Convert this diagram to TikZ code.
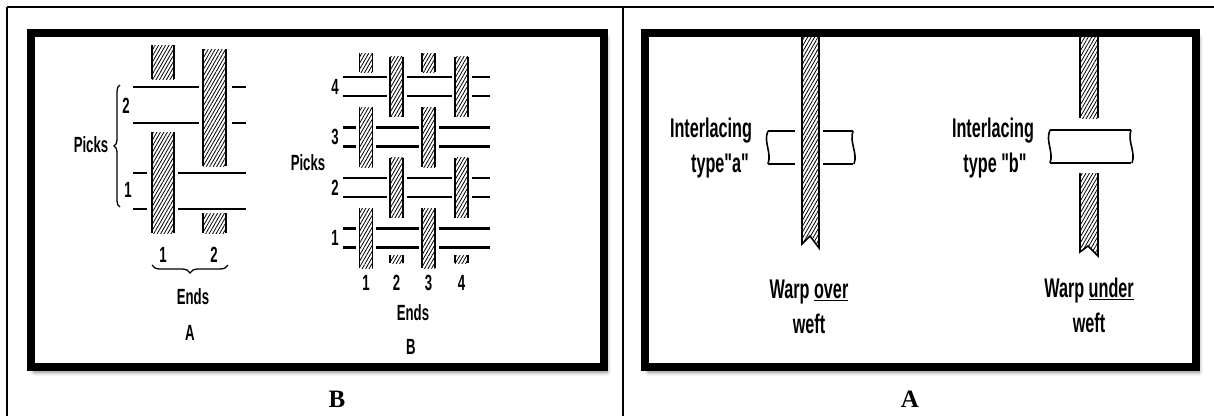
\documentclass[tikz,border=0pt]{standalone}
\usepackage{fontspec}
\newfontfamily\figfont[FakeStretch=0.6]{Liberation Sans}
\newfontfamily\capfont{Liberation Serif}
\usetikzlibrary{patterns.meta,decorations.pathreplacing,shadows.blur}

\tikzset{
  panel/.style={draw, line width=8pt, fill=white,
    blur shadow={shadow xshift=3pt, shadow yshift=-5pt, shadow blur radius=4pt, shadow opacity=50}},
  hatch/.style={pattern={Lines[angle=60, distance=3pt, line width=0.8pt]}},
  edge/.style={line width=1.6pt},
  weft/.style={line width=2.5pt},
  cut/.style={line width=1.6pt},
  brc/.style={decorate, decoration={brace, amplitude=#1}, line width=1.3pt},
  lab/.style={font=\figfont\bfseries\fontsize{22}{22}\selectfont, inner sep=0pt},
  biglab/.style={font=\figfont\bfseries\fontsize{27}{35}\selectfont, inner sep=0pt},
  captext/.style={font=\capfont\bfseries\fontsize{25}{25}\selectfont, inner sep=0pt}
}
\newcommand{\warpbar}[4]{%
  \fill[hatch] (#1,#2) rectangle (#3,#4);
  \draw[edge] (#1,#2) -- (#1,#4) (#3,#2) -- (#3,#4);}

\begin{document}
\begin{tikzpicture}[x=1pt, y=-1pt]
\useasboundingbox (0,0) rectangle (1214,416);

% table rules
\draw[line width=1.5pt] (7,7) -- (1214,7);
\draw[line width=1.5pt] (7,7) -- (7,416);
\draw[line width=1.5pt] (623,7) -- (623,416);

% the two framed pictures
\draw[panel] (31,33) rectangle (604,367);
\draw[panel] (645,33) rectangle (1196,367);

% A: two ends, two picks
\warpbar{152}{45}{174}{79}
\warpbar{152}{132}{174}{233}
\warpbar{203}{49}{226}{166}
\warpbar{203}{213}{226}{233}
\draw[weft] (133,87) -- (199,87) (232,87) -- (246,87);
\draw[weft] (133,123) -- (199,123) (232,123) -- (246,123);
\draw[weft] (133,173) -- (147,173) (178,173) -- (246,173);
\draw[weft] (133,209) -- (147,209) (178,209) -- (246,209);

\draw[brc=6pt] (120,207) -- (120,85);
\draw[brc=8pt] (228,265) -- (152,265);
\node[lab] (picksA) at (91,145) {Picks};
\node[lab] (pickA2) at (126,106) {2};
\node[lab] (pickA1) at (128,190) {1};
\node[lab] (endA1) at (163,255) {1};
\node[lab] (endA2) at (214,255) {2};
\node[lab] (endsA) at (193,297) {Ends};
\node[lab] (nameA) at (190,333) {A};

% B: four ends, four picks
\foreach \y in {238,187.5,137,86.5} {
  \draw[weft] (343,\y-9.5) -- (490,\y-9.5);
  \draw[weft] (343,\y+9.5) -- (490,\y+9.5);
}
\foreach \x/\y in {366/238,428.5/238,396.5/187.5,461.5/187.5,366/137,428.5/137,396.5/86.5,461.5/86.5} {
  \fill[white] (\x-10,\y-13) rectangle (\x+10,\y+13);
  \warpbar{\x-6.5}{\y-30}{\x+6.5}{\y+30}
}
\foreach \x in {366,428.5} {\warpbar{\x-6.5}{53}{\x+6.5}{72}}
\foreach \x in {396.5,461.5} {\warpbar{\x-6.5}{255}{\x+6.5}{263}}

\foreach \n/\y in {1/238,2/187.5,3/137,4/86.5} \node[lab] (pickB\n) at (335,\y) {\n};
\foreach \n/\x in {1/366,2/396.5,3/428.5,4/461.5} \node[lab] (endB\n) at (\x,283) {\n};
\node[lab] (picksB) at (308,163) {Picks};
\node[lab] (endsB) at (413,313) {Ends};
\node[lab] (nameB) at (411,347) {B};

% interlacing type a
\fill[hatch] (802,37) -- (802,244) -- (810,236) -- (819,248) -- (819,37) -- cycle;
\draw[edge] (802,37) -- (802,244) -- (810,236) -- (819,248) -- (819,37);
\draw[weft] (795,131) -- (768,131) (795,164) -- (768,164);
\draw[cut] (768,131) .. controls (763,142) and (772,152) .. (768,164);
\draw[weft] (823,131) -- (853,131) (823,164) -- (853,164);
\draw[cut] (853,131) .. controls (849,142) and (858,153) .. (854,164);
\node[biglab] (interA) at (711,131) {Interlacing};
\node[biglab] (typeA) at (720,166) {type"a"};
\node[biglab, align=center] (noteA) at (809,307) {Warp \underline{over}\\weft};

% interlacing type b
\warpbar{1080}{37}{1098}{118}
\fill[hatch] (1080,173) -- (1080,252) -- (1088,246) -- (1098,256) -- (1098,173) -- cycle;
\draw[edge] (1080,173) -- (1080,252) -- (1088,246) -- (1098,256) -- (1098,173);
\draw[weft] (1050,130) -- (1131,130) (1050,163) -- (1131,163);
\draw[cut] (1050,130) .. controls (1045,141) and (1054,152) .. (1050,163);
\draw[cut] (1131,130) .. controls (1127,141) and (1136,152) .. (1132,163);
\node[biglab] (interB) at (993,131) {Interlacing};
\node[biglab] (typeB) at (995,166) {type "b"};
\node[biglab, align=center] (noteB) at (1089,305) {Warp \underline{under}\\weft};

% captions
\node[captext] (capB) at (337,399) {B};
\node[captext] (capA) at (910,399) {A};
\end{tikzpicture}
\end{document}
